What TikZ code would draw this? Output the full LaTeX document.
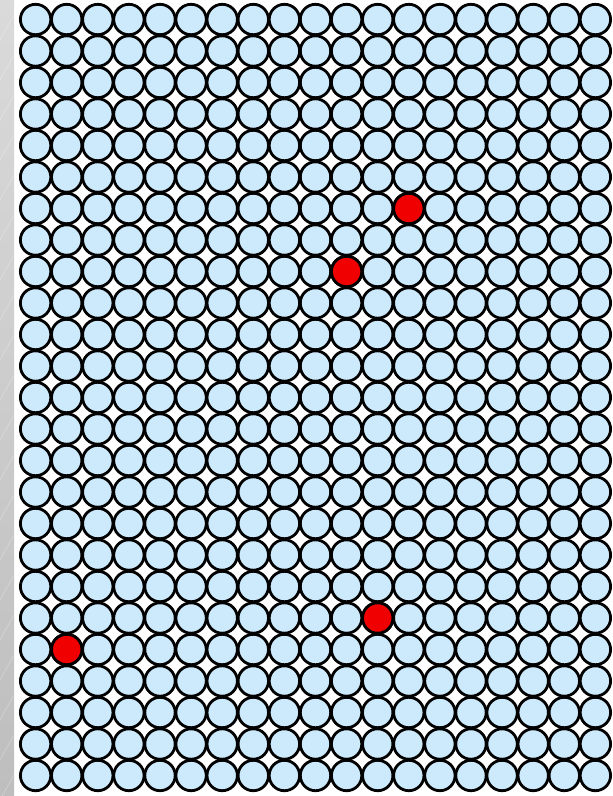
\documentclass[tikz,border=0pt]{standalone}
\usepackage{tikz}

\definecolor{sferaBlu}{RGB}{204,234,252}
\definecolor{sferaRossa}{RGB}{240,0,0}
\definecolor{bordoGrigioA}{RGB}{218,218,218}
\definecolor{bordoGrigioB}{RGB}{190,190,190}

\begin{document}
\begin{tikzpicture}[x=1pt, y=-1pt, line width=2.8pt,
    sfera/.style={draw=black, fill=sferaBlu},
    difetto/.style={draw=black, fill=sferaRossa}]

    \useasboundingbox (0,0) rectangle (613,796);
    \fill[white] (0,0) rectangle (613,796);

    % Striscia grigia a sinistra
    \shade[top color=bordoGrigioA, bottom color=bordoGrigioB] (0,0) rectangle (14,796);
    \begin{scope}
        \clip (0,0) rectangle (14,796);
        \foreach \yy in {40,80,...,840}
            \draw[white, opacity=0.35, line width=0.5pt] (0,\yy) -- (14,\yy-25);
    \end{scope}

    % Reticolo di sfere (19 colonne, 25 righe)
    \foreach \i in {0,...,18}
        \foreach \j in {0,...,24}
            \draw[sfera] (35.6+31.1*\i, 19.5+31.5*\j) circle (15.2);

    % Sfere rosse (difetti)
    \foreach \i/\j in {12/6, 10/8, 11/19, 1/20}
        \draw[difetto] (35.6+31.1*\i, 19.5+31.5*\j) circle (15.2);

\end{tikzpicture}
\end{document}
